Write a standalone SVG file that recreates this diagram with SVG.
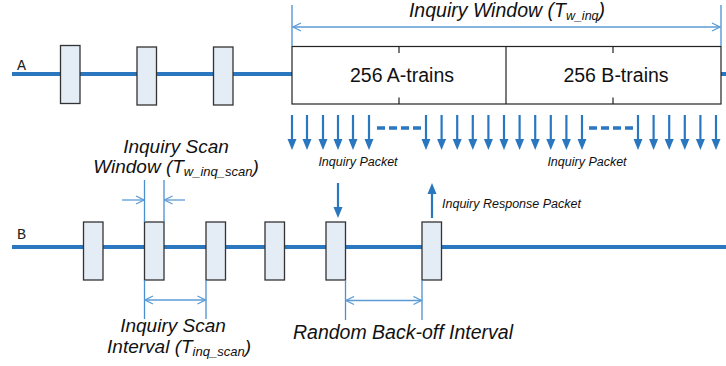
<svg xmlns="http://www.w3.org/2000/svg" xmlns:xlink="http://www.w3.org/1999/xlink" width="726" height="366" viewBox="0 0 726 366">
<style>
.tl{stroke:#2a77c0;stroke-width:4;fill:none}
.box{fill:#e4ecf6;stroke:#333;stroke-width:1.3}
.wbox{fill:#fff;stroke:#222;stroke-width:1.2}
.dim{stroke:#5b9bd5;stroke-width:1.3;fill:none}
.ext{stroke:#4a90d0;stroke-width:1.3;fill:none}
.t{font-family:"Liberation Sans",Arial,sans-serif;fill:#111}
.it{font-style:italic}
.big{font-size:19.5px}
.mid{font-size:19px}
.sm{font-size:12.5px}
.mono{font-family:"Liberation Mono","Courier New",monospace;font-size:15px;fill:#222}
.dash{stroke:#2a77c0;stroke-width:3.5;stroke-dasharray:8,4;fill:none}
</style>
<defs>
<g id="darr"><line x1="0" y1="0" x2="0" y2="26" stroke="#2a77c0" stroke-width="2.2"/><polygon points="-4.5,24 4.5,24 0,35" fill="#2a77c0"/></g>
<marker id="ch" viewBox="0 0 10 10" refX="9" refY="5" markerWidth="10" markerHeight="10" markerUnits="userSpaceOnUse" orient="auto-start-reverse"><path d="M1,1 L9,5 L1,9" fill="none" stroke="#5b9bd5" stroke-width="1.3"/></marker>
</defs>

<g id="timelines">
<line class="tl" x1="12" y1="74" x2="292" y2="74"/>
<line class="tl" x1="720" y1="74" x2="726" y2="74"/>
<line class="tl" x1="12" y1="247" x2="726" y2="247"/>
</g>

<text class="mono" x="17" y="70">A</text>
<text class="mono" x="17" y="239">B</text>

<g id="a-boxes">
<rect class="box" x="60.5" y="45.5" width="19.5" height="58"/>
<rect class="box" x="137" y="47" width="19.5" height="58"/>
<rect class="box" x="213.5" y="47" width="19.5" height="58"/>
</g>

<g id="inquiry-window">
<rect class="wbox" x="292" y="46.5" width="429" height="57.5"/>
<line x1="506" y1="46.5" x2="506" y2="104" stroke="#222" stroke-width="1.2"/>
<line x1="399" y1="46.5" x2="399" y2="53" stroke="#222" stroke-width="1.2"/>
<line x1="399" y1="97.5" x2="399" y2="104" stroke="#222" stroke-width="1.2"/>
<line x1="613" y1="46.5" x2="613" y2="53" stroke="#222" stroke-width="1.2"/>
<line x1="613" y1="97.5" x2="613" y2="104" stroke="#222" stroke-width="1.2"/>
<text class="t big" x="402" y="82" text-anchor="middle">256 A-trains</text>
<text class="t big" x="616" y="82" text-anchor="middle">256 B-trains</text>
</g>

<g id="b-boxes">
<rect class="box" x="83.5" y="222" width="19.5" height="58"/>
<rect class="box" x="144.5" y="222" width="19.5" height="58"/>
<rect class="box" x="206" y="222" width="19.5" height="58"/>
<rect class="box" x="265" y="222" width="19.5" height="58"/>
<rect class="box" x="326" y="222" width="19.5" height="58"/>
<rect class="box" x="422" y="222" width="19.5" height="58"/>
</g>

<g id="connectors">
<line class="ext" x1="292" y1="5" x2="292" y2="46"/>
<line class="ext" x1="721" y1="5" x2="721" y2="46"/>
<line class="dim" x1="293" y1="27" x2="720" y2="27" marker-start="url(#ch)" marker-end="url(#ch)"/>
<use xlink:href="#darr" x="292" y="115"/>
<use xlink:href="#darr" x="307" y="115"/>
<use xlink:href="#darr" x="323" y="115"/>
<use xlink:href="#darr" x="338" y="115"/>
<use xlink:href="#darr" x="353" y="115"/>
<use xlink:href="#darr" x="369" y="115"/>
<line class="dash" x1="377" y1="128" x2="421" y2="128"/>
<use xlink:href="#darr" x="426" y="115"/>
<use xlink:href="#darr" x="441.6" y="115"/>
<use xlink:href="#darr" x="457.2" y="115"/>
<use xlink:href="#darr" x="472.8" y="115"/>
<use xlink:href="#darr" x="488.4" y="115"/>
<use xlink:href="#darr" x="504" y="115"/>
<use xlink:href="#darr" x="519.6" y="115"/>
<use xlink:href="#darr" x="535.2" y="115"/>
<use xlink:href="#darr" x="550.8" y="115"/>
<use xlink:href="#darr" x="566.4" y="115"/>
<use xlink:href="#darr" x="582" y="115"/>
<line class="dash" x1="589" y1="128" x2="633" y2="128"/>
<use xlink:href="#darr" x="638" y="115"/>
<use xlink:href="#darr" x="653.6" y="115"/>
<use xlink:href="#darr" x="669.2" y="115"/>
<use xlink:href="#darr" x="684.8" y="115"/>
<use xlink:href="#darr" x="700.4" y="115"/>
<use xlink:href="#darr" x="716" y="115"/>
<use xlink:href="#darr" x="338" y="183"/>
<g transform="translate(432,218) scale(1,-1)"><use xlink:href="#darr" x="0" y="0"/></g>
<line class="ext" x1="144.5" y1="180" x2="144.5" y2="222"/>
<line class="ext" x1="164" y1="180" x2="164" y2="222"/>
<line class="dim" x1="122" y1="200" x2="144" y2="200" marker-end="url(#ch)"/>
<line class="dim" x1="185" y1="200" x2="164.5" y2="200" marker-end="url(#ch)"/>
<line class="ext" x1="144.5" y1="280" x2="144.5" y2="319"/>
<line class="ext" x1="206" y1="280" x2="206" y2="319"/>
<line class="dim" x1="145" y1="300" x2="205.5" y2="300" marker-start="url(#ch)" marker-end="url(#ch)"/>
<line class="ext" x1="345.5" y1="280" x2="345.5" y2="320"/>
<line class="ext" x1="422" y1="280" x2="422" y2="320"/>
<line class="dim" x1="346" y1="300.5" x2="421.5" y2="300.5" marker-start="url(#ch)" marker-end="url(#ch)"/>
</g>

<g id="labels">
<text class="t it big" x="507" y="17" text-anchor="middle">Inquiry Window (T<tspan font-size="12.5" dy="3">w_inq</tspan><tspan dy="-3">)</tspan></text>
<text class="t it sm" x="358" y="166" text-anchor="middle">Inquiry Packet</text>
<text class="t it sm" x="587" y="166" text-anchor="middle">Inquiry Packet</text>
<text class="t it sm" x="442" y="208">Inquiry Response Packet</text>
<text class="t it mid" x="176" y="152.5" text-anchor="middle">Inquiry Scan</text>
<text class="t it mid" x="176" y="173" text-anchor="middle">Window (T<tspan font-size="13" dy="3">w_inq_scan</tspan><tspan dy="-3">)</tspan></text>
<text class="t it mid" x="173" y="332" text-anchor="middle">Inquiry Scan</text>
<text class="t it mid" x="179" y="352.5" text-anchor="middle">Interval (T<tspan font-size="13" dy="3">inq_scan</tspan><tspan dy="-3">)</tspan></text>
<text class="t it big" x="403" y="339" text-anchor="middle">Random Back-off Interval</text>
</g>
</svg>
